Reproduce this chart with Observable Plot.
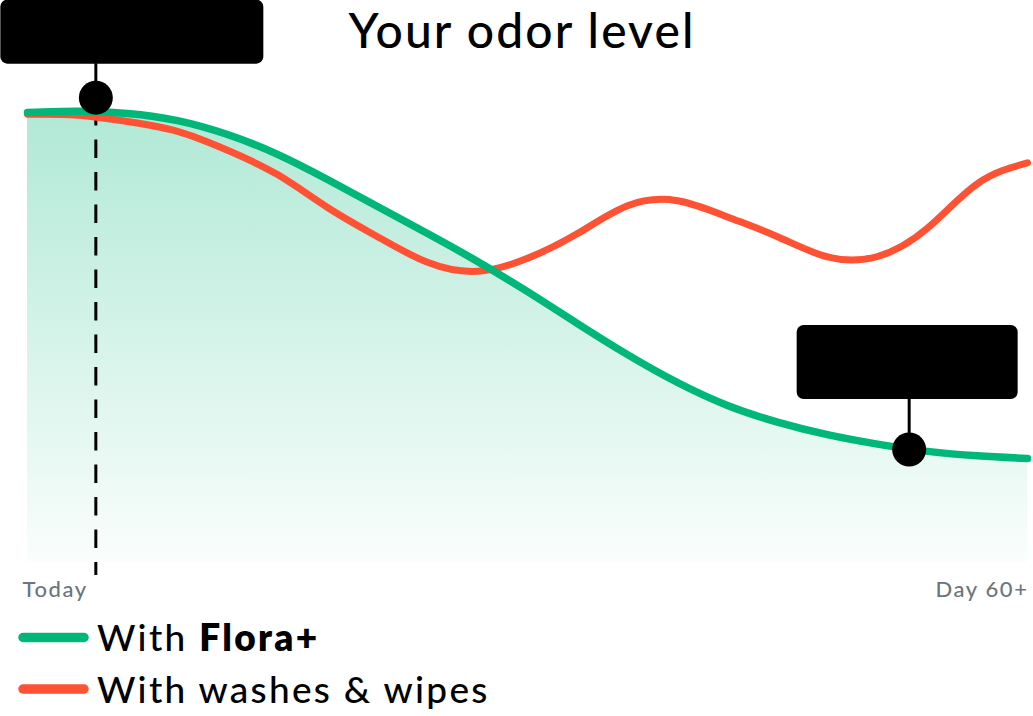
<!DOCTYPE html>
<html>
<head>
<meta charset="utf-8">
<script src="https://cdn.jsdelivr.net/npm/d3@7"></script>
<script src="https://cdn.jsdelivr.net/npm/@observablehq/plot@0.6"></script>
<style>
  html, body { margin: 0; padding: 0; background: #fff; }
  #wrap { position: relative; width: 1033px; height: 716px; overflow: hidden; }
  #wrap > svg { position: absolute; left: 0; top: 0; }
</style>
</head>
<body>
<div id="wrap"></div>
<script>
// ---- data ----
const days = [0, 3, 6, 9, 12, 15, 18, 21, 24, 27, 30, 33, 36, 39, 42, 45, 48, 51, 54, 57, 60];
const floraLevel = [100.0, 100.3, 99.8, 98.2, 95.1, 90.7, 85.1, 79.1, 73.1, 66.9, 60.2, 53.1, 46.2, 40.0, 34.9, 31.2, 28.4, 26.3, 24.7, 23.7, 23.1];
const washesLevel = [99.6, 99.4, 98.0, 95.8, 91.6, 86.2, 78.9, 72.4, 66.7, 64.7, 67.6, 73.1, 79.3, 80.4, 76.8, 72.4, 67.9, 68.0, 74.3, 84.2, 88.8];
const calloutDays = [4.1, 52.9];
const calloutLevels = [103.3, 25.1];
const tickDays = [0, 60];
const tickLabels = ["Today", "Day 60+"];
const titleText = "Your odor level";
const legendPlain = ["With ", "With washes & wipes"];
const legendBold = ["Flora+", ""];

// ---- styles ----
const GREEN = "#00b77a";
const RED = "#ff5234";
const FONT = "Lato, 'Noto Sans', sans-serif";
const CURVE = "natural";

const flora = days.map((d, i) => ({day: d, level: floraLevel[i]}));
const washes = days.map((d, i) => ({day: d, level: washesLevel[i]}));
const callouts = calloutDays.map((d, i) => ({day: d, level: calloutLevels[i]}));
const ticks = tickDays.map((d, i) => ({day: d, label: tickLabels[i]}));

const chart = Plot.plot({
  width: 1033,
  height: 610,
  marginLeft: 27,
  marginRight: 6,
  marginTop: 22,
  marginBottom: 48,
  x: {domain: [0, 60], axis: null},
  y: {domain: [0, 120], axis: null},
  style: {fontFamily: FONT, background: "transparent", overflow: "visible"},
  marks: [
    Plot.areaY(flora, {x: "day", y: "level", curve: CURVE, fill: "url(#odorFade)"}),
    Plot.ruleX([callouts[0]], {x: "day", y1: "level", y2: () => 0, stroke: "#000", strokeWidth: 3,
      strokeDasharray: "18.5,14", strokeDashoffset: 22.6, insetBottom: -13}),
    Plot.line(washes, {x: "day", y: "level", curve: CURVE, stroke: RED, strokeWidth: 7, strokeLinecap: "round"}),
    Plot.line(flora, {x: "day", y: "level", curve: CURVE, stroke: GREEN, strokeWidth: 7.5, strokeLinecap: "round"}),
    // callout 1 (Today)
    Plot.ruleX([callouts[0]], {x: "day", y1: "level", y2: "level", insetTop: -34, stroke: "#000", strokeWidth: 3}),
    Plot.rect([callouts[0]], {x1: "day", x2: "day", y1: "level", y2: "level",
      insetLeft: -95, insetRight: -168, insetTop: -97.5, insetBottom: 33.5, rx: 7, fill: "#000"}),
    // callout 2 (Day ~53)
    Plot.ruleX([callouts[1]], {x: "day", y1: "level", y2: "level", insetTop: -51, stroke: "#000", strokeWidth: 3}),
    Plot.rect([callouts[1]], {x1: "day", x2: "day", y1: "level", y2: "level",
      insetLeft: -112, insetRight: -109, insetTop: -124, insetBottom: 50, rx: 7, fill: "#000"}),
    Plot.dot(callouts, {x: "day", y: "level", r: 17, fill: "#000", stroke: null}),
    // x tick labels
    Plot.text([ticks[0]], {x: "day", text: "label", frameAnchor: "bottom", textAnchor: "start", dx: -5, dy: 34.5,
      fontSize: 22, fill: "#6c757d", fontWeight: 500}),
    Plot.text([ticks[1]], {x: "day", text: "label", frameAnchor: "bottom", textAnchor: "end", dx: 1, dy: 34.5,
      fontSize: 22, fill: "#6c757d", fontWeight: 500})
  ]
});

// gradient for the area
const svgSel = d3.select(chart);
const defs = svgSel.insert("defs", ":first-child");
const grad = defs.append("linearGradient").attr("id", "odorFade")
  .attr("x1", 0).attr("y1", 0).attr("x2", 0).attr("y2", 1);
grad.append("stop").attr("offset", "0%").attr("stop-color", GREEN).attr("stop-opacity", 0.31);
grad.append("stop").attr("offset", "100%").attr("stop-color", GREEN).attr("stop-opacity", 0.02);
svgSel.selectAll("text").style("letter-spacing", "1.6px");

const wrap = document.getElementById("wrap");
wrap.appendChild(chart);

// title + legend overlay
const overlay = d3.create("svg").attr("width", 1033).attr("height", 716)
  .style("font-family", FONT).style("pointer-events", "none");
overlay.append("text").attr("x", 522).attr("y", 47.5).attr("text-anchor", "middle")
  .attr("font-size", 48).attr("font-weight", 500).attr("fill", "#000")
  .style("letter-spacing", "2.1px").text(titleText);

const legendColors = [GREEN, RED];
const legendBaselines = [651, 703];
const swatchY = [637.5, 689];
legendPlain.forEach((t, i) => {
  overlay.append("line").attr("x1", 23).attr("x2", 84).attr("y1", swatchY[i]).attr("y2", swatchY[i])
    .attr("stroke", legendColors[i]).attr("stroke-width", 9.5).attr("stroke-linecap", "round");
  const tx = overlay.append("text").attr("x", 97).attr("y", legendBaselines[i])
    .attr("font-size", 37).attr("font-weight", 500).attr("fill", "#000")
    .style("letter-spacing", "2.3px");
  tx.append("tspan").text(t);
  if (legendBold[i]) tx.append("tspan").attr("font-weight", 800).text(legendBold[i]);
});
wrap.appendChild(overlay.node());
</script>
</body>
</html>
